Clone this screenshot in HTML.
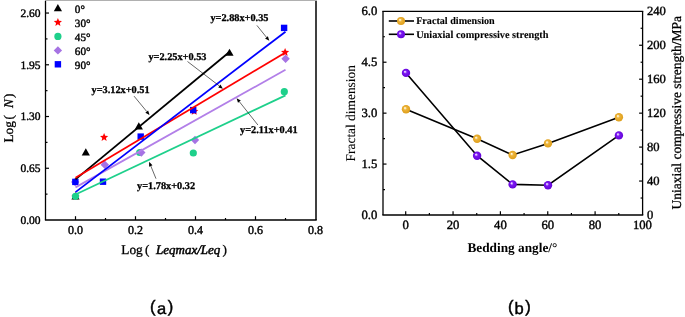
<!DOCTYPE html>
<html><head><meta charset="utf-8"><style>
html,body{margin:0;padding:0;background:#fff;}
body{width:685px;height:317px;overflow:hidden;}
svg{display:block;will-change:transform;}
text{fill:#000;text-rendering:geometricPrecision;stroke:#000;stroke-width:0.3px;}
</style></head><body>
<svg width="685" height="317" viewBox="0 0 685 317" font-family='"Liberation Serif", serif'>
<rect x="44.9" y="0" width="272" height="1" fill="#b0b0b0"/>
<line x1="45.5" y1="0.9" x2="45.5" y2="220.0" stroke="#000" stroke-width="1.3"/>
<line x1="316.0" y1="0.9" x2="316.0" y2="220.0" stroke="#000" stroke-width="1.5"/>
<line x1="44.9" y1="220.0" x2="316.7" y2="220.0" stroke="#000" stroke-width="1.6"/>
<text x="40.5" y="223.90" text-anchor="end" font-size="11.5" style="stroke-width:0.4px" font-family='"Liberation Serif", serif'>0.00</text>
<line x1="45.5" y1="168.26" x2="49.0" y2="168.26" stroke="#000" stroke-width="1.2"/>
<text x="40.5" y="172.16" text-anchor="end" font-size="11.5" style="stroke-width:0.4px" font-family='"Liberation Serif", serif'>0.65</text>
<line x1="45.5" y1="116.52" x2="49.0" y2="116.52" stroke="#000" stroke-width="1.2"/>
<text x="40.5" y="120.42" text-anchor="end" font-size="11.5" style="stroke-width:0.4px" font-family='"Liberation Serif", serif'>1.30</text>
<line x1="45.5" y1="64.78" x2="49.0" y2="64.78" stroke="#000" stroke-width="1.2"/>
<text x="40.5" y="68.68" text-anchor="end" font-size="11.5" style="stroke-width:0.4px" font-family='"Liberation Serif", serif'>1.95</text>
<line x1="45.5" y1="13.04" x2="49.0" y2="13.04" stroke="#000" stroke-width="1.2"/>
<text x="40.5" y="16.94" text-anchor="end" font-size="11.5" style="stroke-width:0.4px" font-family='"Liberation Serif", serif'>2.60</text>
<line x1="45.5" y1="194.13" x2="47.5" y2="194.13" stroke="#000" stroke-width="1.2"/>
<line x1="45.5" y1="142.39" x2="47.5" y2="142.39" stroke="#000" stroke-width="1.2"/>
<line x1="45.5" y1="90.65" x2="47.5" y2="90.65" stroke="#000" stroke-width="1.2"/>
<line x1="45.5" y1="38.91" x2="47.5" y2="38.91" stroke="#000" stroke-width="1.2"/>
<line x1="75.50" y1="220.0" x2="75.50" y2="216.2" stroke="#000" stroke-width="1.2"/>
<line x1="135.50" y1="220.0" x2="135.50" y2="216.2" stroke="#000" stroke-width="1.2"/>
<line x1="195.50" y1="220.0" x2="195.50" y2="216.2" stroke="#000" stroke-width="1.2"/>
<line x1="255.50" y1="220.0" x2="255.50" y2="216.2" stroke="#000" stroke-width="1.2"/>
<text x="75.50" y="233.8" text-anchor="middle" font-size="12" style="stroke-width:0.42px" font-family='"Liberation Serif", serif'>0.0</text>
<text x="135.50" y="233.8" text-anchor="middle" font-size="12" style="stroke-width:0.42px" font-family='"Liberation Serif", serif'>0.2</text>
<text x="195.50" y="233.8" text-anchor="middle" font-size="12" style="stroke-width:0.42px" font-family='"Liberation Serif", serif'>0.4</text>
<text x="255.50" y="233.8" text-anchor="middle" font-size="12" style="stroke-width:0.42px" font-family='"Liberation Serif", serif'>0.6</text>
<text x="315.50" y="233.8" text-anchor="middle" font-size="12" style="stroke-width:0.42px" font-family='"Liberation Serif", serif'>0.8</text>
<line x1="105.50" y1="220.0" x2="105.50" y2="218.0" stroke="#000" stroke-width="1.2"/>
<line x1="165.50" y1="220.0" x2="165.50" y2="218.0" stroke="#000" stroke-width="1.2"/>
<line x1="225.50" y1="220.0" x2="225.50" y2="218.0" stroke="#000" stroke-width="1.2"/>
<line x1="285.50" y1="220.0" x2="285.50" y2="218.0" stroke="#000" stroke-width="1.2"/>
<text x="121.3" y="254.2" font-size="13.3" font-family='"Liberation Serif", serif'>Log</text>
<text x="145.0" y="254.2" font-size="13.3" font-family='"Liberation Serif", serif'>(</text>
<text x="156.0" y="254.2" font-size="13" font-style="italic" style="stroke-width:0.5px" font-family='"Liberation Serif", serif'>Leqmax/Leq</text>
<text x="222.6" y="254.2" font-size="13.3" font-family='"Liberation Serif", serif'>)</text>
<g transform="translate(13.3,142.6) rotate(-90)"><text x="0" y="0" font-size="13.3" font-family='"Liberation Serif", serif'>Log</text><text x="23" y="0" font-size="13.3" font-family='"Liberation Serif", serif'>(</text><text x="34.5" y="0" font-size="13.3" font-style="italic" font-family='"Liberation Serif", serif'>N</text><text x="44.6" y="0" font-size="13.3" font-family='"Liberation Serif", serif'>)</text></g>
<path d="M75.50 192.24 L79.60 199.44 L71.40 199.44 Z" fill="#000000"/>
<path d="M85.80 148.24 L89.90 155.44 L81.70 155.44 Z" fill="#000000"/>
<path d="M138.80 122.24 L142.90 129.44 L134.70 129.44 Z" fill="#000000"/>
<path d="M229.50 48.64 L233.60 55.84 L225.40 55.84 Z" fill="#000000"/>
<polygon points="75.50,192.10 76.64,194.83 79.59,195.07 77.34,197.00 78.03,199.88 75.50,198.34 72.97,199.88 73.66,197.00 71.41,195.07 74.36,194.83" fill="#ff0000"/>
<polygon points="104.10,133.10 105.24,135.83 108.19,136.07 105.94,138.00 106.63,140.88 104.10,139.34 101.57,140.88 102.26,138.00 100.01,136.07 102.96,135.83" fill="#ff0000"/>
<polygon points="194.20,107.00 195.34,109.73 198.29,109.97 196.04,111.90 196.73,114.78 194.20,113.23 191.67,114.78 192.36,111.90 190.11,109.97 193.06,109.73" fill="#ff0000"/>
<polygon points="285.10,48.10 286.24,50.83 289.19,51.07 286.94,53.00 287.63,55.88 285.10,54.34 282.57,55.88 283.26,53.00 281.01,51.07 283.96,50.83" fill="#ff0000"/>
<circle cx="75.50" cy="196.30" r="3.6" fill="#1ed08b"/>
<circle cx="139.70" cy="152.50" r="3.6" fill="#1ed08b"/>
<circle cx="193.30" cy="153.00" r="3.6" fill="#1ed08b"/>
<circle cx="284.30" cy="91.70" r="3.6" fill="#1ed08b"/>
<path d="M75.20 177.80 L79.40 182.00 L75.20 186.20 L71.00 182.00 Z" fill="#a673e3"/>
<path d="M104.80 160.60 L109.00 164.80 L104.80 169.00 L100.60 164.80 Z" fill="#a673e3"/>
<path d="M141.30 148.40 L145.50 152.60 L141.30 156.80 L137.10 152.60 Z" fill="#a673e3"/>
<path d="M195.00 135.80 L199.20 140.00 L195.00 144.20 L190.80 140.00 Z" fill="#a673e3"/>
<path d="M285.60 54.60 L289.80 58.80 L285.60 63.00 L281.40 58.80 Z" fill="#a673e3"/>
<rect x="72.15" y="178.70" width="6.4" height="6.4" fill="#0000ff"/>
<rect x="99.80" y="178.50" width="6.4" height="6.4" fill="#0000ff"/>
<rect x="137.50" y="133.40" width="6.4" height="6.4" fill="#0000ff"/>
<rect x="190.00" y="106.90" width="6.4" height="6.4" fill="#0000ff"/>
<rect x="280.90" y="24.70" width="6.4" height="6.4" fill="#0000ff"/>
<line x1="75.50" y1="179.40" x2="228.50" y2="52.74" stroke="#000000" stroke-width="1.8"/>
<line x1="75.50" y1="177.81" x2="285.50" y2="52.44" stroke="#ff0000" stroke-width="1.8"/>
<line x1="75.50" y1="187.36" x2="285.50" y2="69.79" stroke="#b27fe8" stroke-width="1.8"/>
<line x1="75.50" y1="194.53" x2="285.50" y2="95.35" stroke="#1ed08b" stroke-width="1.8"/>
<line x1="75.50" y1="192.14" x2="285.50" y2="31.67" stroke="#0000ff" stroke-width="1.8"/>
<path d="M57.90 3.94 L62.00 11.14 L53.80 11.14 Z" fill="#000000"/>
<polygon points="57.90,18.10 59.04,20.83 61.99,21.07 59.74,23.00 60.43,25.88 57.90,24.33 55.37,25.88 56.06,23.00 53.81,21.07 56.76,20.83" fill="#ff0000"/>
<circle cx="57.90" cy="36.40" r="3.6" fill="#1ed08b"/>
<path d="M57.90 46.20 L62.10 50.40 L57.90 54.60 L53.70 50.40 Z" fill="#a673e3"/>
<rect x="54.70" y="61.10" width="6.4" height="6.4" fill="#0000ff"/>
<text x="74.8" y="12.80" font-size="11.2" style="stroke-width:0.4px" font-family='"Liberation Serif", serif'>0°</text>
<text x="74.8" y="26.60" font-size="11.2" style="stroke-width:0.4px" font-family='"Liberation Serif", serif'>30°</text>
<text x="74.8" y="40.60" font-size="11.2" style="stroke-width:0.4px" font-family='"Liberation Serif", serif'>45°</text>
<text x="74.8" y="54.60" font-size="11.2" style="stroke-width:0.4px" font-family='"Liberation Serif", serif'>60°</text>
<text x="74.8" y="68.50" font-size="11.2" style="stroke-width:0.4px" font-family='"Liberation Serif", serif'>90°</text>
<text x="210.4" y="20.8" font-size="10.3" font-weight="bold" font-family='"Liberation Serif", serif'>y=2.88x+0.35</text>
<text x="148.4" y="60.4" font-size="10.3" font-weight="bold" font-family='"Liberation Serif", serif'>y=2.25x+0.53</text>
<text x="91.5" y="92.8" font-size="10.3" font-weight="bold" font-family='"Liberation Serif", serif'>y=3.12x+0.51</text>
<text x="240.1" y="133.4" font-size="10.3" font-weight="bold" font-family='"Liberation Serif", serif'>y=2.11x+0.41</text>
<text x="137.0" y="188.5" font-size="10.3" font-weight="bold" font-family='"Liberation Serif", serif'>y=1.78x+0.32</text>
<line x1="256.90" y1="25.40" x2="266.48" y2="37.29" stroke="#000" stroke-width="0.6"/>
<path d="M269.30 40.80 L265.08 38.42 L267.88 36.17 Z" fill="#000"/>
<line x1="187.50" y1="61.50" x2="219.33" y2="85.96" stroke="#000" stroke-width="0.6"/>
<path d="M222.90 88.70 L218.23 87.39 L220.43 84.53 Z" fill="#000"/>
<line x1="134.00" y1="96.10" x2="146.74" y2="111.53" stroke="#000" stroke-width="0.6"/>
<path d="M149.60 115.00 L145.35 112.68 L148.12 110.38 Z" fill="#000"/>
<line x1="257.90" y1="125.00" x2="239.40" y2="101.72" stroke="#000" stroke-width="0.6"/>
<path d="M236.60 98.20 L240.81 100.60 L237.99 102.84 Z" fill="#000"/>
<line x1="156.00" y1="178.70" x2="150.80" y2="165.97" stroke="#000" stroke-width="0.6"/>
<path d="M149.10 161.80 L152.47 165.29 L149.13 166.65 Z" fill="#000"/>
<line x1="383.0" y1="11.3" x2="383.0" y2="215.0" stroke="#000" stroke-width="1.3"/>
<line x1="642.6" y1="11.3" x2="642.6" y2="215.0" stroke="#000" stroke-width="1.3"/>
<line x1="382.35" y1="11.3" x2="643.25" y2="11.3" stroke="#000" stroke-width="1.3"/>
<line x1="382.35" y1="215.0" x2="643.25" y2="215.0" stroke="#000" stroke-width="1.5"/>
<text x="377.3" y="218.90" text-anchor="end" font-size="12.7" style="stroke-width:0.4px" font-family='"Liberation Serif", serif'>0.0</text>
<line x1="383.0" y1="164.07" x2="386.5" y2="164.07" stroke="#000" stroke-width="1.2"/>
<text x="377.3" y="167.97" text-anchor="end" font-size="12.7" style="stroke-width:0.4px" font-family='"Liberation Serif", serif'>1.5</text>
<line x1="383.0" y1="113.15" x2="386.5" y2="113.15" stroke="#000" stroke-width="1.2"/>
<text x="377.3" y="117.05" text-anchor="end" font-size="12.7" style="stroke-width:0.4px" font-family='"Liberation Serif", serif'>3.0</text>
<line x1="383.0" y1="62.22" x2="386.5" y2="62.22" stroke="#000" stroke-width="1.2"/>
<text x="377.3" y="66.12" text-anchor="end" font-size="12.7" style="stroke-width:0.4px" font-family='"Liberation Serif", serif'>4.5</text>
<text x="377.3" y="15.20" text-anchor="end" font-size="12.7" style="stroke-width:0.4px" font-family='"Liberation Serif", serif'>6.0</text>
<line x1="383.0" y1="189.54" x2="385.0" y2="189.54" stroke="#000" stroke-width="1.2"/>
<line x1="383.0" y1="138.61" x2="385.0" y2="138.61" stroke="#000" stroke-width="1.2"/>
<line x1="383.0" y1="87.69" x2="385.0" y2="87.69" stroke="#000" stroke-width="1.2"/>
<line x1="383.0" y1="36.76" x2="385.0" y2="36.76" stroke="#000" stroke-width="1.2"/>
<text x="647" y="218.60" font-size="12.6" style="stroke-width:0.4px" font-family='"Liberation Serif", serif'>0</text>
<line x1="642.6" y1="181.05" x2="639.1" y2="181.05" stroke="#000" stroke-width="1.2"/>
<text x="647" y="184.65" font-size="12.6" style="stroke-width:0.4px" font-family='"Liberation Serif", serif'>40</text>
<line x1="642.6" y1="147.10" x2="639.1" y2="147.10" stroke="#000" stroke-width="1.2"/>
<text x="647" y="150.70" font-size="12.6" style="stroke-width:0.4px" font-family='"Liberation Serif", serif'>80</text>
<line x1="642.6" y1="113.15" x2="639.1" y2="113.15" stroke="#000" stroke-width="1.2"/>
<text x="647" y="116.75" font-size="12.6" style="stroke-width:0.4px" font-family='"Liberation Serif", serif'>120</text>
<line x1="642.6" y1="79.20" x2="639.1" y2="79.20" stroke="#000" stroke-width="1.2"/>
<text x="647" y="82.80" font-size="12.6" style="stroke-width:0.4px" font-family='"Liberation Serif", serif'>160</text>
<line x1="642.6" y1="45.25" x2="639.1" y2="45.25" stroke="#000" stroke-width="1.2"/>
<text x="647" y="48.85" font-size="12.6" style="stroke-width:0.4px" font-family='"Liberation Serif", serif'>200</text>
<text x="647" y="14.90" font-size="12.6" style="stroke-width:0.4px" font-family='"Liberation Serif", serif'>240</text>
<line x1="642.6" y1="198.03" x2="640.6" y2="198.03" stroke="#000" stroke-width="1.2"/>
<line x1="642.6" y1="164.07" x2="640.6" y2="164.07" stroke="#000" stroke-width="1.2"/>
<line x1="642.6" y1="130.12" x2="640.6" y2="130.12" stroke="#000" stroke-width="1.2"/>
<line x1="642.6" y1="96.17" x2="640.6" y2="96.17" stroke="#000" stroke-width="1.2"/>
<line x1="642.6" y1="62.22" x2="640.6" y2="62.22" stroke="#000" stroke-width="1.2"/>
<line x1="642.6" y1="28.27" x2="640.6" y2="28.27" stroke="#000" stroke-width="1.2"/>
<line x1="405.70" y1="215.0" x2="405.70" y2="211.2" stroke="#000" stroke-width="1.2"/>
<line x1="453.05" y1="215.0" x2="453.05" y2="211.2" stroke="#000" stroke-width="1.2"/>
<line x1="500.40" y1="215.0" x2="500.40" y2="211.2" stroke="#000" stroke-width="1.2"/>
<line x1="547.75" y1="215.0" x2="547.75" y2="211.2" stroke="#000" stroke-width="1.2"/>
<line x1="595.10" y1="215.0" x2="595.10" y2="211.2" stroke="#000" stroke-width="1.2"/>
<text x="405.70" y="229.0" text-anchor="middle" font-size="12.7" style="stroke-width:0.4px" font-family='"Liberation Serif", serif'>0</text>
<text x="453.05" y="229.0" text-anchor="middle" font-size="12.7" style="stroke-width:0.4px" font-family='"Liberation Serif", serif'>20</text>
<text x="500.40" y="229.0" text-anchor="middle" font-size="12.7" style="stroke-width:0.4px" font-family='"Liberation Serif", serif'>40</text>
<text x="547.75" y="229.0" text-anchor="middle" font-size="12.7" style="stroke-width:0.4px" font-family='"Liberation Serif", serif'>60</text>
<text x="595.10" y="229.0" text-anchor="middle" font-size="12.7" style="stroke-width:0.4px" font-family='"Liberation Serif", serif'>80</text>
<text x="642.45" y="229.0" text-anchor="middle" font-size="12.7" style="stroke-width:0.4px" font-family='"Liberation Serif", serif'>100</text>
<line x1="429.38" y1="215.0" x2="429.38" y2="213.0" stroke="#000" stroke-width="1.2"/>
<line x1="476.73" y1="215.0" x2="476.73" y2="213.0" stroke="#000" stroke-width="1.2"/>
<line x1="524.08" y1="215.0" x2="524.08" y2="213.0" stroke="#000" stroke-width="1.2"/>
<line x1="571.42" y1="215.0" x2="571.42" y2="213.0" stroke="#000" stroke-width="1.2"/>
<line x1="618.77" y1="215.0" x2="618.77" y2="213.0" stroke="#000" stroke-width="1.2"/>
<text x="467.4" y="251.6" font-size="13.3" font-weight="bold" style="stroke-width:0" font-family='"Liberation Serif", serif'>Bedding angle/°</text>
<text transform="translate(354.6,161.4) rotate(-90)" font-size="13.4" style="stroke-width:0.1px" font-family='"Liberation Serif", serif'>Fractal dimension</text>
<text transform="translate(681.0,209.4) rotate(-90)" font-size="13.5" font-family='"Liberation Serif", serif'>Uniaxial compressive strength/MPa</text>
<defs>
<radialGradient id="gO" cx="0.5" cy="0.5" r="0.55" fx="0.36" fy="0.34">
<stop offset="0" stop-color="#ffffff"/><stop offset="0.14" stop-color="#fbeabb"/><stop offset="0.36" stop-color="#edb43a"/><stop offset="1" stop-color="#dc9c18"/></radialGradient>
<radialGradient id="gP" cx="0.5" cy="0.5" r="0.55" fx="0.36" fy="0.34">
<stop offset="0" stop-color="#ffffff"/><stop offset="0.14" stop-color="#d7b6ff"/><stop offset="0.36" stop-color="#7c18f2"/><stop offset="1" stop-color="#6000d4"/></radialGradient>
</defs>
<polyline points="406.0,109.2 477.1,138.8 512.6,155.0 548.0,143.4 618.9,117.2" fill="none" stroke="#000" stroke-width="1.6"/>
<polyline points="406.0,72.9 477.1,155.7 512.6,184.4 548.0,185.2 618.9,135.4" fill="none" stroke="#000" stroke-width="1.6"/>
<circle cx="406.0" cy="109.2" r="4.2" fill="url(#gO)"/>
<circle cx="477.1" cy="138.8" r="4.2" fill="url(#gO)"/>
<circle cx="512.6" cy="155.0" r="4.2" fill="url(#gO)"/>
<circle cx="548.0" cy="143.4" r="4.2" fill="url(#gO)"/>
<circle cx="618.9" cy="117.2" r="4.2" fill="url(#gO)"/>
<circle cx="406.0" cy="72.9" r="4.2" fill="url(#gP)"/>
<circle cx="477.1" cy="155.7" r="4.2" fill="url(#gP)"/>
<circle cx="512.6" cy="184.4" r="4.2" fill="url(#gP)"/>
<circle cx="548.0" cy="185.2" r="4.2" fill="url(#gP)"/>
<circle cx="618.9" cy="135.4" r="4.2" fill="url(#gP)"/>
<line x1="388.8" y1="21" x2="414" y2="21" stroke="#000" stroke-width="1.6"/>
<circle cx="401" cy="21" r="4" fill="url(#gO)"/>
<line x1="388.8" y1="34.3" x2="414" y2="34.3" stroke="#000" stroke-width="1.6"/>
<circle cx="401" cy="34.3" r="4" fill="url(#gP)"/>
<text x="416.2" y="24.2" font-size="10.15" font-weight="bold" style="stroke-width:0.1px" font-family='"Liberation Serif", serif'>Fractal dimension</text>
<text x="416.2" y="37.5" font-size="10.3" font-weight="bold" style="stroke-width:0.1px" font-family='"Liberation Serif", serif'>Uniaxial compressive strength</text>
<text x="150.1" y="312.4" font-size="16.5" style="stroke-width:0.45px" font-family='"Liberation Sans", sans-serif'>(</text>
<text x="157.1" y="313.9" font-size="16.5" style="stroke-width:0.45px" font-family='"Liberation Sans", sans-serif'>a</text>
<text x="167.7" y="312.4" font-size="16.5" style="stroke-width:0.45px" font-family='"Liberation Sans", sans-serif'>)</text>
<text x="508.0" y="312.4" font-size="16.5" style="stroke-width:0.45px" font-family='"Liberation Sans", sans-serif'>(</text>
<text x="514.6" y="313.9" font-size="16.5" style="stroke-width:0.45px" font-family='"Liberation Sans", sans-serif'>b</text>
<text x="525.3" y="312.4" font-size="16.5" style="stroke-width:0.45px" font-family='"Liberation Sans", sans-serif'>)</text>
</svg>
</body></html>
